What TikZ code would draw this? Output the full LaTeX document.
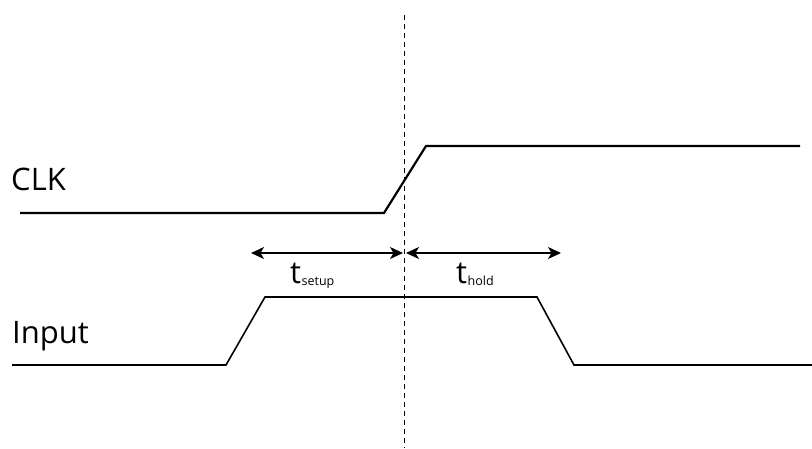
\documentclass[tikz,border=0pt]{standalone}
\usepackage{fontspec}
\setmainfont{Open Sans}
\usetikzlibrary{arrows.meta}
\begin{document}
\begin{tikzpicture}[x=1pt,y=-1pt,
  clkwave/.style={line width=2.2pt,line join=miter},
  inwave/.style={line width=1.6pt,line join=miter},
  edgeline/.style={line width=0.9pt,dash pattern=on 5pt off 4pt},
  interval/.style={line width=1.2pt,{Stealth[length=13pt,width=12pt,inset=3.5pt]}-{Stealth[length=13pt,width=12pt,inset=3.5pt]}},
  siglabel/.style={anchor=base west,inner sep=0pt,font=\fontsize{31}{34}\selectfont},
  tlabel/.style={anchor=base west,inner sep=0pt,font=\fontsize{31}{34}\selectfont},
  subfont/.style={}]
  \useasboundingbox (0,0) rectangle (812,448);

  % clock edge reference
  \coordinate (vtop) at (404,15);
  \coordinate (vbot) at (404,448);
  \draw[edgeline] (vtop) -- (vbot);

  % CLK waveform
  \coordinate (c0) at (20,213);
  \coordinate (c1) at (384,213);
  \coordinate (c2) at (426,146);
  \coordinate (c3) at (800,146);
  \draw[clkwave] (c0) -- (c1) -- (c2) -- (c3);

  % Input waveform
  \coordinate (i0) at (12,365);
  \coordinate (i1) at (226,365);
  \coordinate (i2) at (265,297);
  \coordinate (i3) at (537,297);
  \coordinate (i4) at (574,365);
  \coordinate (i5) at (812,365);
  \draw[inwave] (i0) -- (i1) -- (i2) -- (i3) -- (i4) -- (i5);

  % signal names
  \node[siglabel] (clk) at (11,190) {CLK};
  \node[siglabel] (inp) at (12,343) {Input};

  % setup and hold intervals
  \coordinate (s0) at (251,253);
  \coordinate (s1) at (403,253);
  \coordinate (h0) at (406,253);
  \coordinate (h1) at (561,253);
  \draw[interval] (s0) -- (s1);
  \draw[interval] (h0) -- (h1);

  \node[tlabel] (tsetup) at (290,283) {t\kern0.5pt\raisebox{-2pt}{\fontsize{12.5}{13}\selectfont setup}};
  \node[tlabel] (thold) at (456,283) {t\kern0.5pt\raisebox{-2pt}{\fontsize{12.5}{13}\selectfont hold}};
\end{tikzpicture}
\end{document}
